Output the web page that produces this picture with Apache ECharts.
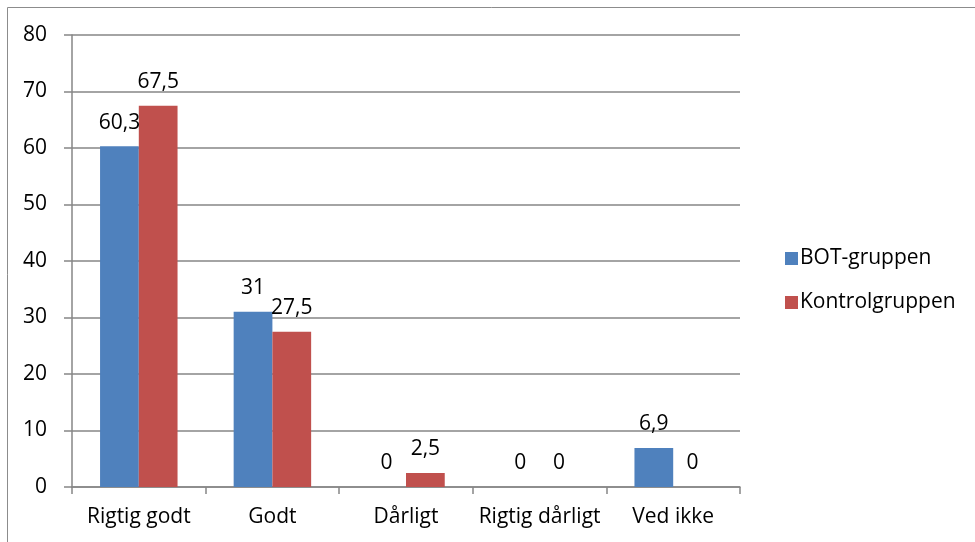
<!DOCTYPE html>
<html>
<head>
<meta charset="utf-8">
<script src="https://cdn.jsdelivr.net/npm/echarts@6/dist/echarts.min.js"></script>
<style>
  html, body { margin: 0; padding: 0; background: #fff; }
  #chart { width: 975px; height: 542px; }
</style>
</head>
<body>
<div id="chart"></div>
<script>
const categories = ['Rigtig godt', 'Godt', 'Dårligt', 'Rigtig dårligt', 'Ved ikke']
const botValues = [60.3, 31, 0, 0, 6.9]
const kontrolValues = [67.5, 27.5, 2.5, 0, 0]
const yTicks = [0, 10, 20, 30, 40, 50, 60, 70, 80]

const font = '"Open Sans", sans-serif'
const fontSize = 21
const gridColor = '#868686'

const chart = echarts.init(document.getElementById('chart'))

const makeSeries = (name, values, color) => ({
    name: name,
    type: 'bar',
    data: values,
    barWidth: '29%',
    barGap: '0%',
    itemStyle: { color: color },
    label: {
        show: true,
        position: 'top',
        distance: 13,
        color: '#000',
        fontSize: fontSize,
        fontFamily: font,
        formatter: p => String(p.value).replace('.', ',')
    }
})

chart.setOption({
    animation: false,
    graphic: [{
        type: 'polyline',
        shape: { points: [[7.5, 542], [7.5, 7.5], [975, 7.5]] },
        style: { stroke: '#8c8c8c', lineWidth: 1, fill: null }
    }],
    grid: { left: 72, right: 235, top: 35, bottom: 55 },
    legend: {
        orient: 'vertical',
        left: 780,
        top: 243,
        itemWidth: 13,
        itemHeight: 13,
        itemGap: 23,
        icon: 'rect',
        textStyle: { fontSize: fontSize, fontFamily: font, color: '#000', padding: [0, 0, 0, -3] },
        data: ['BOT-gruppen', 'Kontrolgruppen']
    },
    xAxis: {
        type: 'category',
        data: categories,
        axisLine: { lineStyle: { color: gridColor, width: 1.5 } },
        axisTick: { show: true, length: 7, lineStyle: { color: gridColor, width: 1.5 } },
        axisLabel: { interval: 0, margin: 20, fontSize: fontSize, fontFamily: font, color: '#000' }
    },
    yAxis: {
        type: 'value',
        min: yTicks[0],
        max: yTicks[yTicks.length - 1],
        interval: 10,
        axisLine: { show: true, lineStyle: { color: gridColor, width: 1.5 } },
        axisTick: { show: true, length: 8, lineStyle: { color: gridColor, width: 1.5 } },
        splitLine: { lineStyle: { color: gridColor, width: 1.5 } },
        axisLabel: { margin: 25, fontSize: fontSize, fontFamily: font, color: '#000' }
    },
    series: [
        makeSeries('BOT-gruppen', botValues, '#4F81BD'),
        makeSeries('Kontrolgruppen', kontrolValues, '#C0504D')
    ]
})
</script>
</body>
</html>
